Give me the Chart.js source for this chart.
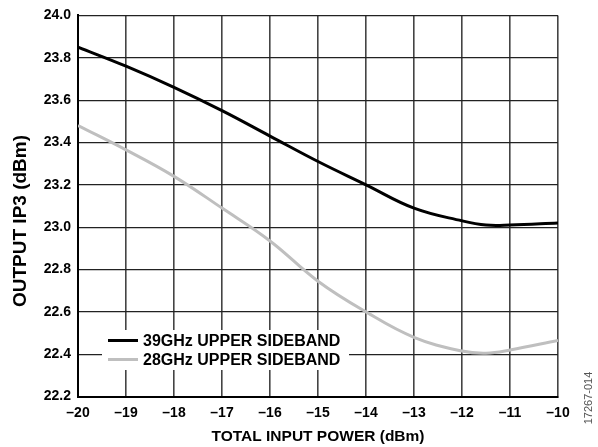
<!DOCTYPE html>
<html>
<head>
<meta charset="utf-8">
<script src="https://cdn.jsdelivr.net/npm/chart.js@4.4.1/dist/chart.umd.min.js"></script>
<style>
  html, body { margin: 0; padding: 0; background: #fff; }
  #wrap { width: 598px; height: 447px; position: relative; }
</style>
</head>
<body>
<div id="wrap"><canvas id="ip3Chart"></canvas></div>
<script>
// total input power (dBm)
var inputPower = [-20, -19, -18, -17, -16, -15, -14, -13, -12, -11.5, -11, -10];
// output IP3 (dBm)
var ip3_39GHz = [23.85, 23.76, 23.66, 23.55, 23.43, 23.31, 23.20, 23.09, 23.03, 23.01, 23.01, 23.02];
var ip3_28GHz = [23.48, 23.365, 23.24, 23.09, 22.935, 22.745, 22.60, 22.48, 22.415, 22.405, 22.42, 22.465];
var seriesNames = ["39GHz UPPER SIDEBAND", "28GHz UPPER SIDEBAND"];
var seriesColors = ["#000000", "#bfbfbf"];
var yTitle = "OUTPUT IP3 (dBm)";
var xTitle = "TOTAL INPUT POWER (dBm)";
var figureId = "17267-014";

function toPoints(xs, ys) {
    return xs.map(function (x, i) { return { x: x, y: ys[i] }; });
}

function dash(v) {
    return v < 0 ? "\u2013" + Math.abs(v) : String(v);
}

// legend box, y title and figure id drawn on top of the grid
var extras = {
    id: "extras",
    afterDatasetsDraw: function (chart) {
        var ctx = chart.ctx;
        ctx.save();
        ctx.fillStyle = "#fff";
        ctx.fillRect(102, 330, 247, 40);
        var rows = [340.5, 359.5];
        chart.data.datasets.forEach(function (ds, i) {
            ctx.strokeStyle = ds.borderColor;
            ctx.lineWidth = 3;
            ctx.beginPath();
            ctx.moveTo(108, rows[i]);
            ctx.lineTo(138, rows[i]);
            ctx.stroke();
            ctx.fillStyle = "#000";
            ctx.font = "bold 16px 'Liberation Sans', Arial, sans-serif";
            ctx.textBaseline = "middle";
            ctx.textAlign = "left";
            ctx.fillText(ds.label, 143, rows[i] + 1);
        });

        ctx.translate(21, 221);
        ctx.rotate(-Math.PI / 2);
        ctx.font = "bold 19px 'Liberation Sans', Arial, sans-serif";
        ctx.textAlign = "center";
        ctx.textBaseline = "middle";
        ctx.fillText(yTitle, 0, 0);
        ctx.restore();

        ctx.save();
        ctx.translate(589, 398);
        ctx.rotate(-Math.PI / 2);
        ctx.font = "11px 'Liberation Sans', Arial, sans-serif";
        ctx.fillStyle = "#555";
        ctx.textAlign = "center";
        ctx.textBaseline = "middle";
        ctx.fillText(figureId, 0, 0);
        ctx.restore();
    }
};

var ctx = document.getElementById("ip3Chart").getContext("2d");
var ip3Chart = new Chart(ctx, {
    type: "line",
    data: {
        datasets: [
            {
                label: seriesNames[0],
                data: toPoints(inputPower, ip3_39GHz),
                borderColor: seriesColors[0],
                borderWidth: 3,
                pointRadius: 0,
                tension: 0.4,
                fill: false,
            },
            {
                label: seriesNames[1],
                data: toPoints(inputPower, ip3_28GHz),
                borderColor: seriesColors[1],
                borderWidth: 3,
                pointRadius: 0,
                tension: 0.4,
                fill: false,
            },
        ],
    },
    options: {
        responsive: true,
        maintainAspectRatio: false,
        animation: false,
        layout: { padding: { top: 10.5, right: 40, left: 0, bottom: 0 } },
        plugins: { legend: { display: false }, tooltip: { enabled: false } },
        scales: {
            x: {
                type: "linear",
                min: -20,
                max: -10,
                afterFit: function (scale) { scale.height = 50.4; },
                border: { color: "#000", width: 2 },
                grid: { color: "#444", lineWidth: 1.6, drawTicks: false },
                ticks: {
                    stepSize: 1,
                    padding: 8,
                    color: "#000",
                    font: { family: "'Liberation Sans', Arial, sans-serif", size: 14, weight: "bold" },
                    callback: function (v) { return dash(v); },
                },
                title: {
                    display: true,
                    text: xTitle,
                    color: "#000",
                    padding: { top: 0, bottom: 1 },
                    font: { family: "'Liberation Sans', Arial, sans-serif", size: 15.5, weight: "bold" },
                },
            },
            y: {
                min: 22.2,
                max: 24.0,
                afterFit: function (scale) { scale.width = 78; },
                border: { color: "#000", width: 2 },
                grid: { color: "#222", lineWidth: 1.2, drawTicks: false },
                ticks: {
                    stepSize: 0.2,
                    padding: 7,
                    color: "#000",
                    font: { family: "'Liberation Sans', Arial, sans-serif", size: 14, weight: "bold" },
                    callback: function (v) { return v.toFixed(1); },
                },
            },
        },
    },
    plugins: [extras],
});
</script>
</body>
</html>
